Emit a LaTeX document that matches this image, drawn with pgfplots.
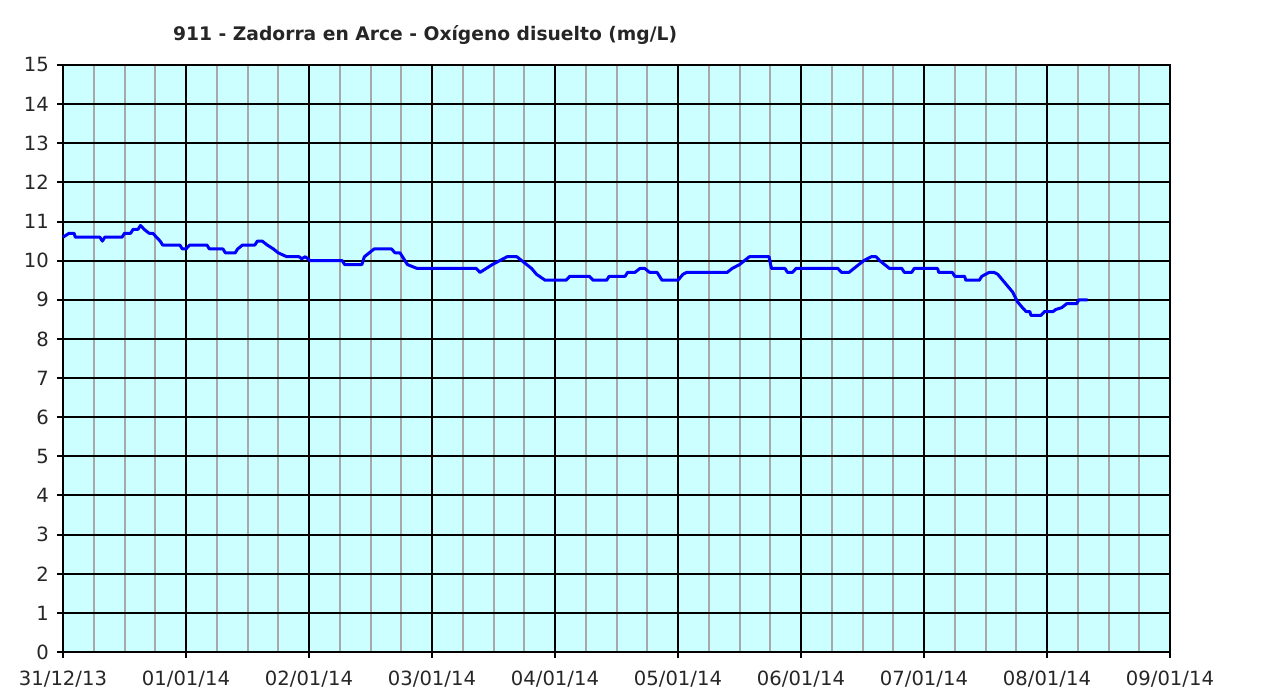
\documentclass[border=0pt]{standalone}
\usepackage{fontspec}
\setmainfont{DejaVu Sans}
\usepackage{pgfplots}
\pgfplotsset{compat=1.18}
\definecolor{bgc}{HTML}{CCFFFF}
\definecolor{mingrid}{HTML}{A8A8A8}
\definecolor{linec}{HTML}{0000FF}
\begin{document}
\begin{tikzpicture}
\begin{axis}[
  scale only axis,
  width=553.5pt, height=293.5pt,
  xmin=0, xmax=9, ymin=0, ymax=15,
  xtick={0,...,9},
  xticklabels={31/12/13,01/01/14,02/01/14,03/01/14,04/01/14,05/01/14,06/01/14,07/01/14,08/01/14,09/01/14},
  ytick={0,...,15},
  minor x tick num=3,
  grid=both,
  major grid style={black, line width=1pt},
  minor grid style={mingrid, line width=1pt},
  axis line style={black, line width=1pt},
  axis background/.style={fill=bgc},
  tick align=outside,
  major tick length=3pt,
  minor tick length=0pt,
  tick style={black, line width=1pt},
  xtick pos=bottom, ytick pos=left,
  ticklabel style={font=\fontsize{9.8}{11}\selectfont, text=black!85},
  xticklabel style={yshift=-3pt},
  yticklabel style={xshift=-0.5pt},
  /pgf/number format/assume math mode=true,
  clip=false,
]
\addplot[linec, line width=1.5pt, line join=round] coordinates {
(0,10.6) (0.05,10.7) (0.09,10.7) (0.10,10.6) (0.30,10.6) (0.32,10.5) (0.34,10.6)
(0.48,10.6) (0.50,10.7) (0.55,10.7) (0.57,10.8) (0.61,10.8) (0.63,10.9) (0.66,10.8)
(0.70,10.7) (0.73,10.7) (0.76,10.6) (0.79,10.5) (0.81,10.4) (0.95,10.4) (0.97,10.3)
(1.00,10.3) (1.03,10.4) (1.17,10.4) (1.19,10.3) (1.30,10.3) (1.32,10.2) (1.40,10.2)
(1.42,10.3) (1.46,10.4) (1.56,10.4) (1.58,10.5) (1.62,10.5) (1.66,10.4) (1.71,10.3)
(1.75,10.2) (1.82,10.1) (1.92,10.1) (1.94,10.05) (1.97,10.1) (2.01,10.0) (2.27,10.0)
(2.29,9.9) (2.43,9.9) (2.45,10.1) (2.49,10.2) (2.53,10.3) (2.67,10.3) (2.70,10.2)
(2.74,10.2) (2.76,10.1) (2.80,9.9) (2.88,9.8) (3.36,9.8) (3.39,9.7) (3.44,9.8)
(3.49,9.9) (3.55,10.0) (3.61,10.1) (3.69,10.1) (3.73,10.0) (3.77,9.9) (3.81,9.8)
(3.85,9.65) (3.92,9.5) (4.09,9.5) (4.12,9.6) (4.28,9.6) (4.31,9.5) (4.42,9.5)
(4.44,9.6) (4.57,9.6) (4.59,9.7) (4.65,9.7) (4.69,9.8) (4.73,9.8) (4.77,9.7)
(4.83,9.7) (4.87,9.5) (5.00,9.5) (5.04,9.65) (5.07,9.7) (5.40,9.7) (5.44,9.8)
(5.50,9.9) (5.54,10.0) (5.58,10.1) (5.74,10.1) (5.76,9.8) (5.87,9.8) (5.89,9.7)
(5.93,9.7) (5.96,9.8) (6.30,9.8) (6.33,9.7) (6.39,9.7) (6.43,9.8) (6.47,9.9)
(6.51,10.0) (6.57,10.1) (6.61,10.1) (6.64,10.0) (6.68,9.9) (6.72,9.8) (6.82,9.8)
(6.84,9.7) (6.90,9.7) (6.92,9.8) (7.11,9.8) (7.12,9.7) (7.23,9.7) (7.25,9.6)
(7.33,9.6) (7.34,9.5) (7.45,9.5) (7.47,9.6) (7.53,9.7) (7.57,9.7) (7.60,9.65)
(7.64,9.5) (7.68,9.35) (7.72,9.2) (7.76,8.95) (7.80,8.8) (7.83,8.7) (7.86,8.7)
(7.87,8.6) (7.95,8.6) (7.98,8.7) (8.05,8.7) (8.07,8.75) (8.12,8.8) (8.16,8.9)
(8.24,8.9) (8.26,9.0) (8.33,9.0)
};
\end{axis}
\node[anchor=base west, font=\bfseries\fontsize{9.35}{11}\selectfont, text=black!85]
  at ([xshift=51.5pt,yshift=12pt]current axis.north west) {911 - Zadorra en Arce - Oxígeno disuelto (mg/L)};
\path (current axis.south west) ++(-31.5pt,-19.5pt) coordinate (bl);
\path (current axis.north east) ++(47.5pt,32.5pt) coordinate (tr);
\useasboundingbox (bl) rectangle (tr);
\end{tikzpicture}
\end{document}
